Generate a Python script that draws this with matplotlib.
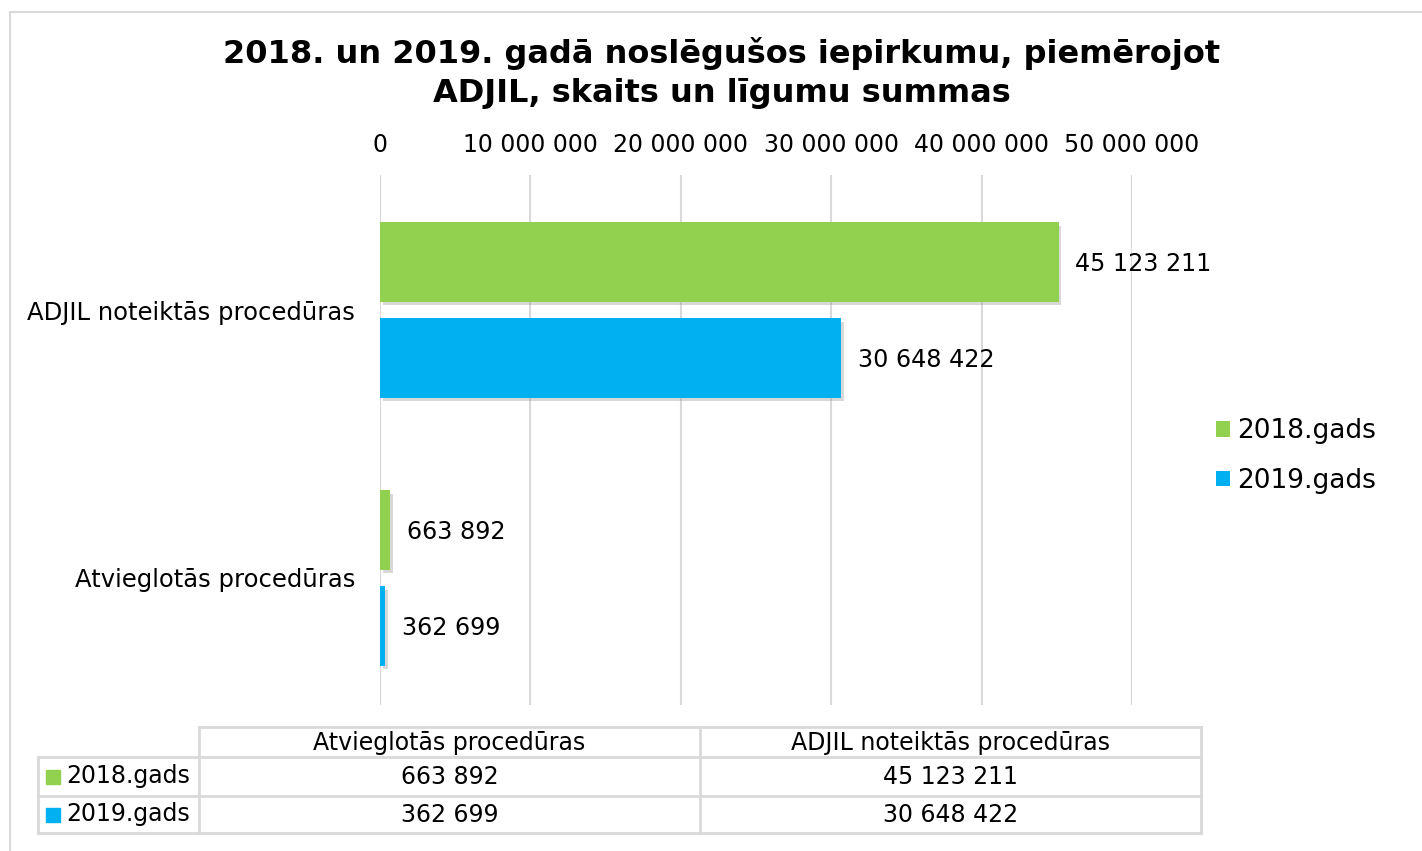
import matplotlib
matplotlib.use("Agg")
import matplotlib.pyplot as plt
from matplotlib.patches import Rectangle, Patch
from matplotlib.lines import Line2D
import matplotlib.patheffects as pe
import numpy as np

plt.rcParams['font.family'] = ['DejaVu Sans']

title = "2018. un 2019. gadā noslēgušos iepirkumu, piemērojot\nADJIL, skaits un līgumu summas"
categories = ["Atvieglotās procedūras", "ADJIL noteiktās procedūras"]
series_names = ["2018.gads", "2019.gads"]
values_2018 = [663892, 45123211]
values_2019 = [362699, 30648422]
colors = ["#92D050", "#00B0F0"]
xticks = [0, 10000000, 20000000, 30000000, 40000000, 50000000]

def fmt(v):
    return f"{v:,}".replace(",", " ")

W, H = 1422, 851
fig = plt.figure(figsize=(W / 100, H / 100), dpi=100)
fig.patch.set_facecolor("white")

# outer chart border
fig.patches.append(Rectangle((10 / W, -0.1), 1.2, 1 - 12 / H + 0.1, transform=fig.transFigure,
                             fill=False, edgecolor="#d9d9d9", linewidth=1.5))

ax = fig.add_axes([380 / W, 1 - 705 / H, (1132 - 380) / W, (705 - 175) / H])
ax.set_xlim(0, 50000000)
ax.set_ylim(-0.474, 1.504)
y = np.arange(len(categories))
h = 0.298
off = 0.179
shadow = [pe.SimplePatchShadow(offset=(2, -2.5), shadow_rgbFace="#808080", alpha=0.3), pe.Normal()]
b1 = ax.barh(y + off, values_2018, height=h, color=colors[0], label=series_names[0], zorder=3)
b2 = ax.barh(y - off, values_2019, height=h, color=colors[1], label=series_names[1], zorder=3)
for bars in (b1, b2):
    for p in bars:
        p.set_path_effects(shadow)
for bars, vals in ((b1, values_2018), (b2, values_2019)):
    for p, v in zip(bars, vals):
        ax.annotate(fmt(v), (p.get_width(), p.get_y() + p.get_height() / 2),
                    xytext=(12, -1.5), textcoords="offset points", va="center", ha="left",
                    fontsize=17.2, color="#000000", zorder=4)

ax.xaxis.tick_top()
ax.set_xticks(xticks)
ax.set_xticklabels([fmt(t) for t in xticks], fontsize=17)
ax.tick_params(axis="x", length=0, pad=13)
ax.set_yticks(y)
ax.set_yticklabels(categories, fontsize=17.5)
ax.tick_params(axis="y", length=0, pad=18)
ax.grid(axis="x", color="#d9d9d9", linewidth=1.5, zorder=0)
for s in ax.spines.values():
    s.set_visible(False)

handles = [Patch(facecolor=c, edgecolor="none") for c in colors]
leg = fig.legend(handles=handles, labels=series_names, loc="center left",
                 bbox_to_anchor=(1192 / W, 1 - 456 / H), frameon=False, fontsize=19,
                 handlelength=0.55, handleheight=0.55, handletextpad=0.25, labelspacing=0.9)

fig.text(722 / W, 1 - 73 / H, title, ha="center", va="center", fontsize=23,
         fontweight="bold", linespacing=1.3)

# data table
tax = fig.add_axes([0, 0, 1, 1], facecolor="none")
tax.set_xlim(0, W)
tax.set_ylim(H, 0)
tax.axis("off")
lc = "#d9d9d9"
lw = 2
x0, x1, x2, x3 = 38, 199, 700, 1201
yh0, yh1, yr1, yr2 = 727, 757, 796, 833
tax.add_line(Line2D([x1, x3], [yh0, yh0], color=lc, lw=lw))
for yy in (yh1, yr1, yr2):
    tax.add_line(Line2D([x0, x3], [yy, yy], color=lc, lw=lw))
tax.add_line(Line2D([x0, x0], [yh1, yr2], color=lc, lw=lw))
for xx in (x1, x2, x3):
    tax.add_line(Line2D([xx, xx], [yh0, yr2], color=lc, lw=lw))
colx = [(x1 + x2) / 2, (x2 + x3) / 2]
for cx, c in zip(colx, categories):
    tax.text(cx, (yh0 + yh1) / 2 + 1, c, ha="center", va="center", fontsize=17)
rows = [(yh1, yr1), (yr1, yr2)]
for (ra, rb), name, col, vals in zip(rows, series_names, colors, (values_2018, values_2019)):
    cy = (ra + rb) / 2
    tax.add_patch(Rectangle((46, cy - 7), 14, 14, color=col))
    tax.text(66, cy, name, ha="left", va="center", fontsize=17)
    for cx, v in zip(colx, vals):
        tax.text(cx, cy, fmt(v), ha="center", va="center", fontsize=17)

fig.savefig("out.png", dpi=100)
